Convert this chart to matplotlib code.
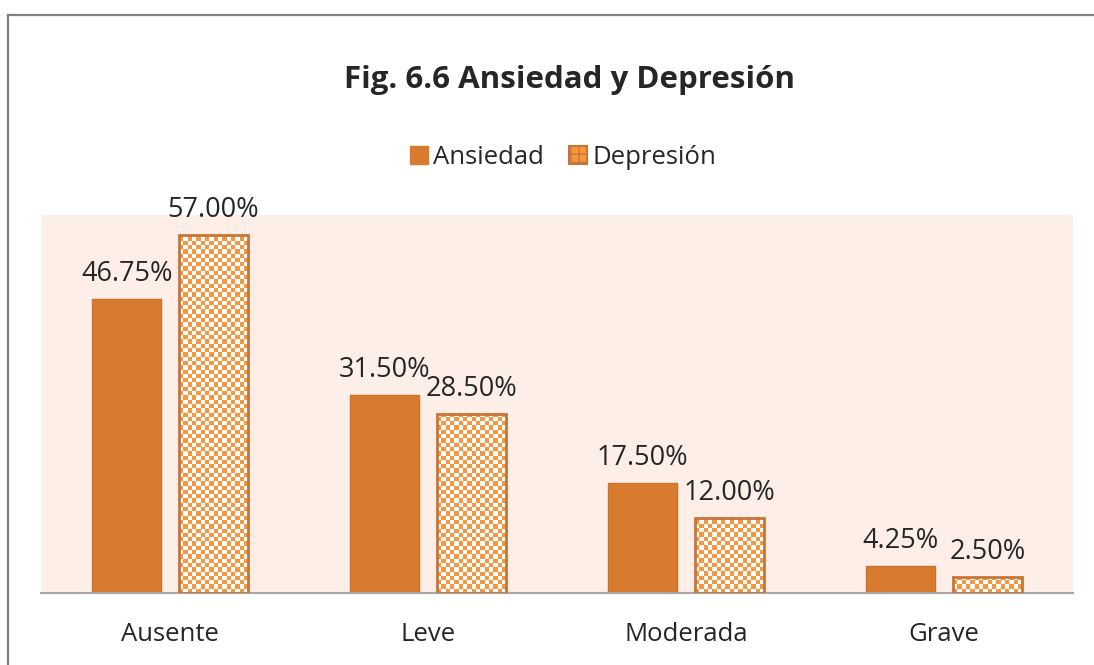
import numpy as np
import matplotlib
matplotlib.use('Agg')
import matplotlib.pyplot as plt
from matplotlib.lines import Line2D
from matplotlib.patches import Patch

#---------------
# data
categorias = ['Ausente', 'Leve', 'Moderada', 'Grave']
ansiedad = [46.75, 31.50, 17.50, 4.25]
depresion = [57.00, 28.50, 12.00, 2.50]
series = ['Ansiedad', 'Depresión']
titulo = 'Fig. 6.6 Ansiedad y Depresión'

#---------------
# styles
naranja = '#D97B2E'
naranja_claro = '#F7963F'
borde_check = '#C8753A'
fondo = '#FDEEE8'
plt.rcParams['font.family'] = ['Open Sans', 'DejaVu Sans']
plt.rcParams['hatch.color'] = 'white'

fig = plt.figure(figsize=(10.94, 6.65), dpi=100)
ax = fig.add_axes([41/1094, 1-593/665, 1032/1094, 378/665])
ax.set_facecolor(fondo)

x = np.arange(len(categorias))
w = 0.268
off = 0.168
b1 = ax.bar(x-off, ansiedad, w, color=naranja, edgecolor='#C9722B', linewidth=1, zorder=2)
b2 = ax.bar(x+off, depresion, w, facecolor='none', edgecolor=borde_check, linewidth=2, zorder=3)

xl = (-0.5, len(categorias)-0.5)
yl = (0, 60.2)

# checkerboard fill for Depresion bars
ncol, nrow = 240, 88
ii, jj = np.meshgrid(np.arange(ncol), np.arange(nrow))
cheq = (ii + jj) % 2
cmap = matplotlib.colors.ListedColormap(['white', naranja_claro])
for bar in b2:
  im = ax.imshow(cheq, cmap=cmap, extent=(xl[0], xl[1], yl[0], yl[1]),
                 aspect='auto', interpolation='nearest', zorder=2.5)
  im.set_clip_path(bar)

ax.set_xlim(*xl)
ax.set_ylim(*yl)

# value labels
for bars, vals in ((b1, ansiedad), (b2, depresion)):
  for bar, v in zip(bars, vals):
    ax.annotate('%.2f%%' % v, (bar.get_x()+bar.get_width()/2, v),
                xytext=(0, 8), textcoords='offset points',
                ha='center', va='bottom', fontsize=19.5, color='#262626')

for s in ['top', 'right', 'left']:
  ax.spines[s].set_visible(False)
ax.spines['bottom'].set_color('#A6A6A6')
ax.spines['bottom'].set_linewidth(1.5)
ax.set_yticks([])
ax.set_xticks(x)
ax.set_xticklabels(categorias, fontsize=18.5, color='#262626')
ax.tick_params(axis='x', length=0, pad=21)

fig.text(570/1094, 1-80/665, titulo, ha='center', va='center',
         fontsize=22.5, fontweight='bold', color='#262626')

handles = [Patch(facecolor=naranja, edgecolor=naranja),
           Patch(facecolor=naranja_claro, edgecolor=borde_check, linewidth=1.5, hatch='++')]
fig.legend(handles, series, loc='center', bbox_to_anchor=(563/1094, 1-157/665),
           ncol=2, frameon=False, fontsize=18.5, handlelength=0.7, handleheight=0.7,
           handletextpad=0.2, columnspacing=1.0, labelcolor='#262626')

# chart border
fig.add_artist(Line2D([8/1094, 8/1094], [0, 1-15/665], color='#808080', lw=1.6))
fig.add_artist(Line2D([8/1094, 1], [1-15/665, 1-15/665], color='#808080', lw=1.6))

fig.savefig('out.png', dpi=100)
